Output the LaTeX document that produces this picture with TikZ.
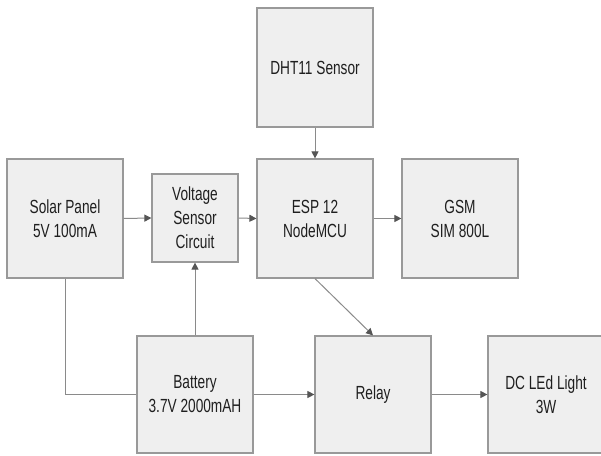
\documentclass[tikz,border=0pt]{standalone}
\usepackage{fontspec}
\newfontfamily\boxfont[FakeStretch=0.72]{Liberation Sans}
\usetikzlibrary{arrows.meta}
\definecolor{boxfill}{HTML}{EFEFEF}
\definecolor{boxline}{HTML}{999999}
\definecolor{wire}{HTML}{8A8A8A}
\definecolor{tip}{HTML}{555555}
\tikzset{
  blk/.style={draw=boxline, line width=1.2pt, fill=boxfill, inner sep=2pt,
    align=center, text=black!88, font=\boxfont\fontsize{19}{24}\selectfont},
  wirearrow/.style={draw=wire, line width=1pt, -{Triangle[length=7pt,width=7pt,fill=tip,color=tip]}},
  wireline/.style={draw=wire, line width=1pt}
}
\begin{document}
\begin{tikzpicture}[x=1pt,y=1pt]
\useasboundingbox (0,0) rectangle (601,455);
\fill[white] (0,0) rectangle (601,455);
\clip (0,0) rectangle (601,455);
\node[blk, minimum width=116pt, minimum height=119pt] (dht) at (315,387.5) {DHT11 Sensor};
\node[blk, minimum width=116pt, minimum height=119pt] (solar) at (65,236.5) {Solar Panel\\5V 100mA};
\node[blk, minimum width=86pt, minimum height=88pt] (vs) at (195,237) {Voltage\\Sensor\\Circuit};
\node[blk, minimum width=116pt, minimum height=119pt] (esp) at (315,236.5) {ESP 12\\NodeMCU};
\node[blk, minimum width=116pt, minimum height=119pt] (gsm) at (460,236.5) {GSM\\SIM 800L};
\node[blk, minimum width=116pt, minimum height=117pt] (bat) at (195,60.5) {Battery\\3.7V 2000mAH};
\node[blk, minimum width=116pt, minimum height=117pt] (relay) at (373,60.5) {Relay};
\node[blk, minimum width=116pt, minimum height=117pt] (dc) at (546,60.5) {DC LEd Light\\3W};
\draw[wirearrow] (solar.east) -- (vs.west);
\draw[wirearrow] (vs.east) -- (esp.west);
\draw[wirearrow] (dht.south) -- (esp.north);
\draw[wirearrow] (esp.east) -- (gsm.west);
\draw[wirearrow] (esp.south) -- (relay.north);
\draw[wirearrow] (bat.north) -- (vs.south);
\draw[wireline] (solar.south) -- (solar.south |- bat.west) -- (bat.west);
\draw[wirearrow] (bat.east) -- (relay.west);
\draw[wirearrow] (relay.east) -- (dc.west);
\end{tikzpicture}
\end{document}
